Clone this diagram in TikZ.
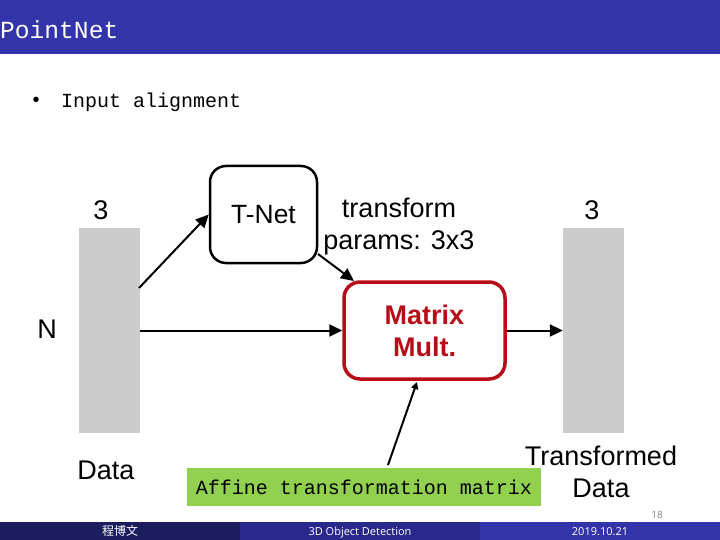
\documentclass[tikz,border=0pt]{standalone}
\usepackage{fontspec}
\setmainfont{Liberation Sans}
\setmonofont{Liberation Mono}
\newfontfamily\cjk{Noto Sans CJK SC}
\newfontfamily\foot{Open Sans}
\usepackage{tikz}
\usetikzlibrary{arrows.meta}
\definecolor{barblue}{RGB}{51,51,170}
\definecolor{midblue}{RGB}{41,41,140}
\definecolor{darkblue}{RGB}{28,28,94}
\definecolor{datagray}{RGB}{204,204,204}
\definecolor{multred}{RGB}{184,12,24}
\definecolor{labelgreen}{RGB}{146,208,80}
\tikzset{
    lab/.style={inner sep=0pt, align=center, font=\fontsize{27}{32}\selectfont},
    slide/.style={inner sep=0pt, anchor=west, font=\ttfamily},
    band/.style={draw=none, inner sep=0pt, minimum height=18pt, minimum width=240pt, text=white,
        text height=10pt, text depth=2pt, font=\fontsize{11}{13}\foot},
    datablock/.style={fill=datagray, inner sep=0pt, minimum width=61pt, minimum height=205pt},
    link/.style={-{Triangle[length=13pt,width=12pt]}, line width=2pt},
}
\begin{document}
\begin{tikzpicture}[x=1pt,y=-1pt]
    \useasboundingbox (0,0) rectangle (720,540);
    \node [fill=barblue, inner sep=0pt, minimum width=720pt, minimum height=54pt] (titlebar) at (360,27) {};
    \node [slide, text=white, font=\ttfamily\fontsize{24.6}{30}\selectfont] (title) at (0,30) {PointNet};
    \node [slide, font=\ttfamily\fontsize{20}{26}\selectfont] (bullet) at (30,102) {\textbullet};
    \node [slide, font=\ttfamily\fontsize{20}{26}\selectfont] (item) at (61,102) {Input alignment};

    \node [datablock] (datain) at (109.5,330.5) {};
    \node [datablock] (dataout) at (593.5,330.5) {};
    \node [lab] (dimin) at (101,210) {3};
    \node [lab] (dimout) at (592,210) {3};
    \node [lab] (dimn) at (47,329) {N};
    \node [lab] (datatxt) at (106,470) {Data};
    \node [lab] (transformed) at (601,472) {Transformed\\Data};
    \node [lab] (params) at (399,227) {transform\\params: 3x3};

    \node [draw, line width=2.5pt, rounded corners=16pt, minimum width=107pt, minimum height=97pt, inner sep=0pt,
        font=\fontsize{26.4}{32}\selectfont] (tnet) at (263.5,214.5) {T-Net};
    \node [draw=multred, line width=3.5pt, rounded corners=16pt, minimum width=161pt, minimum height=97pt, inner sep=0pt,
        align=center, text=multred, font=\bfseries\fontsize{27}{32}\selectfont] (matrix) at (424.5,330.5) {Matrix\\Mult.};

    \coordinate (datatop) at (139,288);
    \coordinate (tnetout) at (318,254);
    \coordinate (matrixtop) at (354,281);
    \coordinate (afftop) at (388,465);
    \coordinate (matrixbot) at (417,382);
    \draw [link] (datatop) -- (tnet.west);
    \draw [link] (tnetout) -- (matrixtop);
    \draw [link] (datain.east) -- (matrix.west);
    \draw [link] (matrix.east) -- (dataout.west);
    \draw [link, -{Triangle[length=7pt,width=7pt]}] (afftop) -- (matrixbot);

    \node [fill=labelgreen, inner sep=0pt, minimum width=354pt, minimum height=38pt,
        font=\ttfamily\fontsize{20}{26}\selectfont] (affine) at (364,487) {Affine transformation matrix};

    \node [inner sep=0pt, text=gray, font=\fontsize{10}{12}\foot] (pagenum) at (657,515) {18};
    \node [band, fill=darkblue, font=\fontsize{12}{13}\cjk] (footl) at (120,531) {程博文};
    \node [band, fill=midblue] (footm) at (360,531) {3D Object Detection};
    \node [band, fill=barblue] (footr) at (600,531) {2019.10.21};
\end{tikzpicture}
\end{document}
